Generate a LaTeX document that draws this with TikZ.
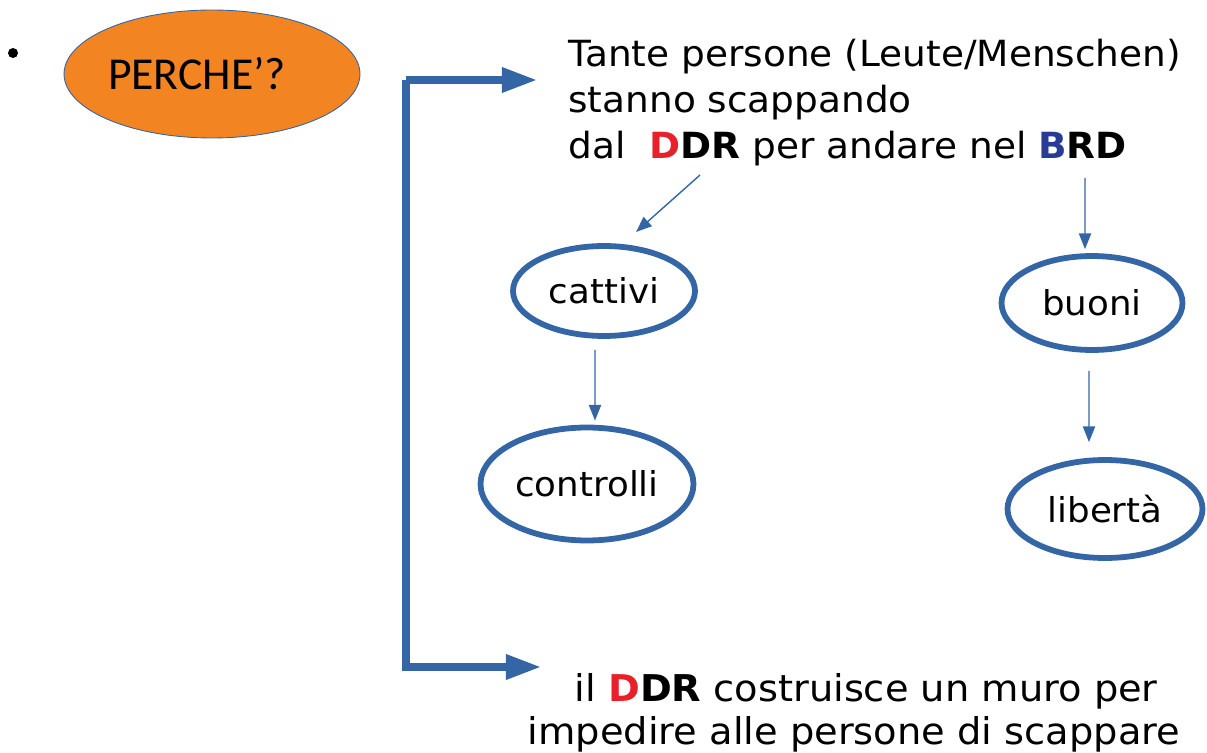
\documentclass[tikz,border=0pt]{standalone}
\usepackage{fontspec}
\setmainfont{DejaVu Sans}[FakeStretch=1.04]
\newfontfamily\titlefont{Carlito}
\usetikzlibrary{shapes.geometric,arrows.meta}
\definecolor{pptblue}{RGB}{52,101,164}
\definecolor{pptorange}{RGB}{242,133,34}
\definecolor{ddrred}{RGB}{232,32,42}
\definecolor{brdblue}{RGB}{40,60,150}
\tikzset{
  word/.style={ellipse, draw=pptblue, line width=3.3pt, inner sep=0pt,
    font=\fontsize{19.5}{24}\selectfont},
  thinarrow/.style={draw=pptblue, line width=0.8pt, -{Triangle[length=9pt,width=7pt]}},
  bigarrow/.style={draw=pptblue, line width=4pt, -{Triangle[length=20pt,width=13.6pt]}},
  says/.style={inner sep=0pt},
}
\newcommand{\ddr}{\textbf{\textcolor{ddrred}{D}DR}}
\newcommand{\brd}{\textbf{\textcolor{brdblue}{B}RD}}
\begin{document}
\begin{tikzpicture}[x=0.02cm, y=-0.02cm]
  \useasboundingbox (0,0) rectangle (1207,753);

  \node[circle, fill=black, inner sep=0pt, minimum size=0.2cm] (bullet) at (13,53) {};
  \node[ellipse, draw=pptblue, line width=0.5pt, fill=pptorange,
    minimum width=5.92cm, minimum height=2.56cm,
    font=\titlefont\fontsize{26}{30}\selectfont] (perche) at (212,74) {\hspace*{-0.6cm}PERCHE’?};

  % the two statements
  \node[says, align=left, anchor=north west, font=\fontsize{20.5}{26}\selectfont] (flight) at (568,39)
    {Tante persone (Leute/Menschen)\\stanno scappando\\dal\ \ \ddr{} per andare nel \brd};
  \node[says, align=center, anchor=north, font=\fontsize{21}{24.4}\selectfont] (wall) at (854,673)
    {\ \ il \ddr{} costruisce un muro per\\impedire alle persone di scappare};

  % bracket with its two arrows
  \coordinate (corner) at (406,80);
  \coordinate (toptip) at (537,80);
  \coordinate (bottip) at (541,667);
  \draw[bigarrow] (corner) -- (toptip);
  \draw[bigarrow] (corner) |- (bottip);

  % east and west
  \node[word, minimum width=3.64cm, minimum height=1.8cm] (cattivi) at (604,291) {cattivi};
  \node[word, minimum width=4.26cm, minimum height=2.26cm] (controlli) at (587,484) {controlli};
  \node[word, minimum width=3.62cm, minimum height=1.88cm] (buoni) at (1092,303) {buoni};
  \node[word, minimum width=3.9cm, minimum height=1.96cm] (liberta) at (1105,509) {libertà};

  \coordinate (ddrfoot) at (700,175);
  \coordinate (ddrend) at (636,232);
  \coordinate (brdfoot) at (1085,178);
  \draw[thinarrow] (ddrfoot) -- (ddrend);
  \draw[thinarrow] (brdfoot) -- ([xshift=-0.14cm, yshift=0.08cm]buoni.north);
  \draw[thinarrow] ([xshift=-0.18cm, yshift=-0.22cm]cattivi.south) -- ([xshift=0.16cm, yshift=0.08cm]controlli.north);
  \draw[thinarrow] ([xshift=-0.06cm, yshift=-0.36cm]buoni.south) -- ([xshift=-0.32cm, yshift=0.3cm]liberta.north);
\end{tikzpicture}
\end{document}
